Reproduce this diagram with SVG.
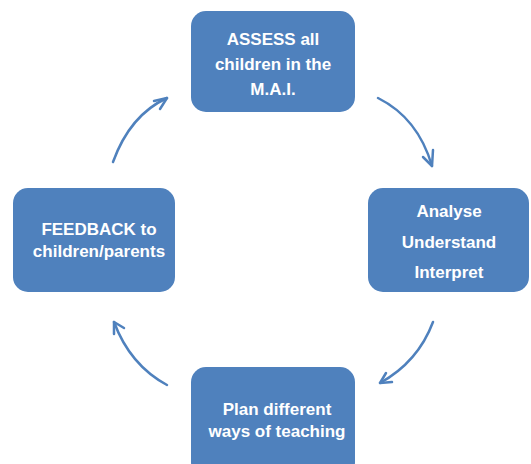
<svg xmlns="http://www.w3.org/2000/svg" width="531" height="464" viewBox="0 0 531 464">
<style>
.box{fill:#4F81BD;}
.t{fill:#fff;font-family:"Liberation Sans","Open Sans",sans-serif;font-weight:bold;font-size:17px;text-anchor:middle;}
.c{fill:none;stroke:#4F81BD;stroke-width:2.5;stroke-linecap:round;stroke-linejoin:round;}
</style>
<rect width="531" height="464" fill="#fff"/>
<g id="assess">
<rect class="box" x="191" y="11" width="164" height="101" rx="15"/>
<text class="t" x="273" y="45">ASSESS all</text>
<text class="t" x="273" y="70">children in the</text>
<text class="t" x="273" y="95">M.A.I.</text>
</g>
<g id="analyse">
<rect class="box" x="368" y="188" width="161" height="104" rx="15"/>
<text class="t" x="449" y="217">Analyse</text>
<text class="t" x="449" y="248">Understand</text>
<text class="t" x="449" y="278">Interpret</text>
</g>
<g id="plan">
<rect class="box" x="191" y="367" width="164" height="110" rx="15"/>
<text class="t" x="277" y="415">Plan different</text>
<text class="t" x="277" y="437">ways of teaching</text>
</g>
<g id="feedback">
<rect class="box" x="13" y="188" width="162" height="104" rx="15"/>
<text class="t" x="99" y="235">FEEDBACK to</text>
<text class="t" x="99" y="257">children/parents</text>
</g>
<g id="connectors">
<path class="c" d="M378,98 Q418,118 432,166"/>
<path class="c" d="M433,150 L432,166 L423,157"/>
<path class="c" d="M433,322 Q418,362 380,383"/>
<path class="c" d="M392,382 L380,383 L386,373"/>
<path class="c" d="M167,385 Q130,365 114,322"/>
<path class="c" d="M124,328 L114,322 L114,334"/>
<path class="c" d="M113,162 Q130,115 167,98"/>
<path class="c" d="M154,101 L167,98 L160,109"/>
</g>
</svg>
